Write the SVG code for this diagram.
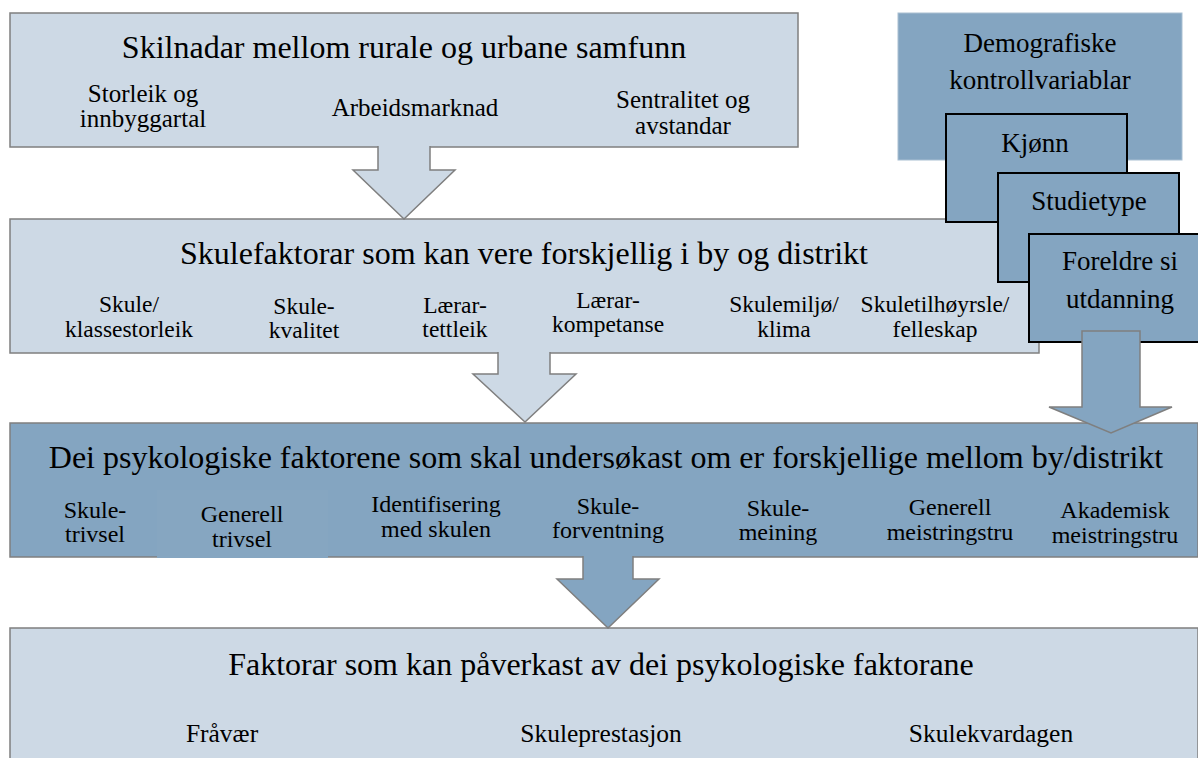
<svg xmlns="http://www.w3.org/2000/svg" width="1198" height="758" viewBox="0 0 1198 758">
<style>
.light{fill:#cdd9e5;stroke:#7f7f7f;stroke-width:1.5}
.dark{fill:#84a5c1;stroke:#7f7f7f;stroke-width:1.5}
.darknb{fill:#84a5c1;stroke:#a9bfd2;stroke-width:1}
.item{fill:#84a5c1;stroke:#000;stroke-width:2}
text{fill:#000;text-anchor:middle;font-family:"Liberation Serif","Times New Roman","DejaVu Serif",serif}
.t{font-size:32px}
.s1{font-size:25px}
.s2{font-size:23.5px}
.s3{font-size:24px}
.d{font-size:27px}
.b{font-size:25.5px}
</style>
<rect width="1198" height="758" fill="#fff"/>
<g id="box1">
<rect class="light" x="10" y="13" width="788" height="134"/>
<text class="t" x="404" y="58">Skilnadar mellom rurale og urbane samfunn</text>
<text class="s1" x="143" y="102">Storleik og</text>
<text class="s1" x="143" y="127">innbyggartal</text>
<text class="s1" x="415" y="116">Arbeidsmarknad</text>
<text class="s1" x="683" y="108">Sentralitet og</text>
<text class="s1" x="683" y="134">avstandar</text>
</g>
<g id="box2">
<rect class="light" x="10" y="219" width="1029" height="134"/>
<text class="t" x="524" y="264">Skulefaktorar som kan vere forskjellig i by og distrikt</text>
<text class="s2" x="129" y="312">Skule/</text>
<text class="s2" x="129" y="337">klassestorleik</text>
<text class="s2" x="304" y="314">Skule-</text>
<text class="s2" x="304" y="338">kvalitet</text>
<text class="s2" x="455" y="313">Lærar-</text>
<text class="s2" x="455" y="337">tettleik</text>
<text class="s2" x="608" y="308">Lærar-</text>
<text class="s2" x="608" y="332">kompetanse</text>
<text class="s2" x="784" y="312">Skulemiljø/</text>
<text class="s2" x="784" y="337">klima</text>
<text class="s2" x="935" y="312">Skuletilhøyrsle/</text>
<text class="s2" x="935" y="337">felleskap</text>
</g>
<g id="box3">
<rect class="dark" x="10" y="423" width="1188" height="134"/>
<rect x="157" y="490" width="171" height="68" fill="#86a6c1"/>
<text class="t" x="606" y="468">Dei psykologiske faktorene som skal undersøkast om er forskjellige mellom by/distrikt</text>
<text class="s3" x="95" y="518">Skule-</text>
<text class="s3" x="95" y="542">trivsel</text>
<text class="s3" x="242" y="522">Generell</text>
<text class="s3" x="242" y="547">trivsel</text>
<text class="s3" x="436" y="512">Identifisering</text>
<text class="s3" x="436" y="537">med skulen</text>
<text class="s3" x="608" y="514">Skule-</text>
<text class="s3" x="608" y="538">forventning</text>
<text class="s3" x="778" y="516">Skule-</text>
<text class="s3" x="778" y="540">meining</text>
<text class="s3" x="950" y="515">Generell</text>
<text class="s3" x="950" y="540">meistringstru</text>
<text class="s3" x="1115" y="518">Akademisk</text>
<text class="s3" x="1115" y="543">meistringstru</text>
</g>
<g id="box4">
<rect class="light" x="10" y="628" width="1188" height="140"/>
<text class="t" x="601" y="675">Faktorar som kan påverkast av dei psykologiske faktorane</text>
<text class="b" x="222" y="742">Fråvær</text>
<text class="b" x="601" y="742">Skuleprestasjon</text>
<text class="b" x="991" y="742">Skulekvardagen</text>
</g>
<g id="demografiske">
<rect class="darknb" x="898" y="13" width="284" height="147"/>
<text class="d" x="1040" y="52">Demografiske</text>
<text class="d" x="1040" y="89">kontrollvariablar</text>
</g>
<g id="kjonn">
<rect class="item" x="946" y="114" width="181" height="108"/>
<text class="d" x="1035" y="152">Kjønn</text>
</g>
<g id="studietype">
<rect class="item" x="998" y="173" width="181" height="109"/>
<text class="d" x="1089" y="210">Studietype</text>
</g>
<g id="foreldre">
<rect class="item" x="1029" y="234" width="175" height="108"/>
<text class="d" x="1120" y="270">Foreldre si</text>
<text class="d" x="1120" y="308">utdanning</text>
</g>
<g id="connectors">
<path class="light" d="M378,146 V170 H353 L404,219 L455,170 H430 V146"/>
<path class="light" d="M498,352 V374 H473 L525,422 L576,374 H550 V352"/>
<path class="dark" d="M583,556 V579 H557 L608,628 L659,579 H633 V556"/>
<path class="dark" d="M1082,331 V407 H1049 L1111,433 L1172,407 H1140 V331 Z"/>
</g>
</svg>
